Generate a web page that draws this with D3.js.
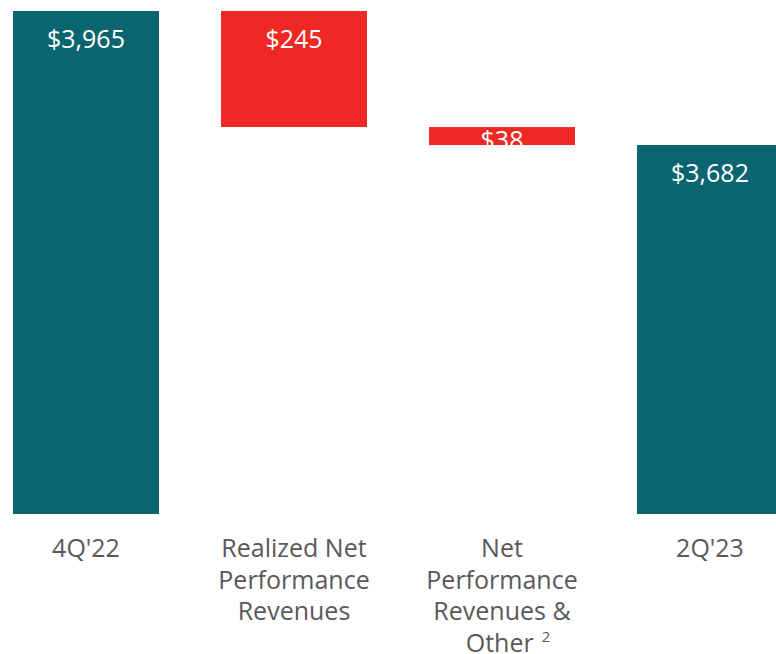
<!DOCTYPE html>
<html>
<head>
<meta charset="utf-8">
<script src="https://cdn.jsdelivr.net/npm/d3@7"></script>
<style>
  html, body { margin: 0; padding: 0; background: #fff; overflow: hidden; }
</style>
</head>
<body>
<svg width="776" height="654"></svg>
<script>
(() => {
    // waterfall data
    const categories = ["4Q'22", "Realized Net Performance Revenues", "Net Performance Revenues & Other", "2Q'23"];
    const labelLines = [
        ["4Q'22"],
        ["Realized Net", "Performance", "Revenues"],
        ["Net", "Performance", "Revenues &", "Other"],
        ["2Q'23"]
    ];
    const footnotes = [null, null, "2", null];
    const kinds = ["total", "delta", "delta", "total"];
    const values = [3965, -245, -38, 3682];

    const svg = d3.select("svg"),
        width = +svg.attr("width"),
        height = +svg.attr("height");

    const teal = "#0b6570", red = "#ee2925", gray = "#595959";

    // build the floating bars
    let running = 0;
    const bars = categories.map((c, i) => {
        let lo, hi;
        if (kinds[i] === "total") {
            lo = null; hi = values[i]; running = values[i];
        } else {
            hi = running; lo = running + values[i]; running = lo;
        }
        return { cat: c, lines: labelLines[i], note: footnotes[i], kind: kinds[i], value: values[i], lo, hi };
    });

    const x = d3.scaleBand()
        .domain(categories)
        .range([13, 783])
        .paddingInner(62 / 208)
        .paddingOuter(0);

    // axis floor is not zero in the source slide
    const y = d3.scaleLinear()
        .domain([2903, 3965])
        .range([514, 11]);

    const fmt = d3.format("$,");

    const g = svg.append("g");

    g.selectAll("rect")
        .data(bars)
        .join("rect")
        .attr("x", d => x(d.cat))
        .attr("width", x.bandwidth())
        .attr("y", d => y(d.hi))
        .attr("height", d => (d.lo === null ? y.range()[0] : y(d.lo)) - y(d.hi))
        .attr("fill", d => d.kind === "total" ? teal : red);

    // value labels inside bars
    g.selectAll(".val")
        .data(bars)
        .join("text")
        .attr("class", "val")
        .attr("x", d => x(d.cat) + x.bandwidth() / 2)
        .attr("y", d => {
            const top = y(d.hi);
            const h = (d.lo === null ? y.range()[0] : y(d.lo)) - top;
            return Math.min(top + 37, top + h / 2 + 13);
        })
        .attr("text-anchor", "middle")
        .attr("font-family", "'Open Sans', sans-serif")
        .attr("font-size", 25)
        .attr("fill", "#fff")
        .text(d => fmt(Math.abs(d.value)));

    // category labels
    const cat = g.selectAll(".cat")
        .data(bars)
        .join("text")
        .attr("class", "cat")
        .attr("text-anchor", "middle")
        .attr("font-family", "'Open Sans', sans-serif")
        .attr("font-size", 25)
        .attr("fill", gray);

    cat.each(function (d) {
        const t = d3.select(this);
        const cx = x(d.cat) + x.bandwidth() / 2;
        d.lines.forEach((ln, j) => {
            const last = j === d.lines.length - 1;
            t.append("tspan")
                .attr("x", cx + (last && d.note ? 6 : 0))
                .attr("y", 557 + j * 31.5)
                .text(ln);
            if (last && d.note) {
                t.append("tspan")
                    .attr("dx", 8)
                    .attr("dy", -10)
                    .attr("font-size", 15)
                    .text(d.note);
            }
        });
    });
})();
</script>
</body>
</html>
